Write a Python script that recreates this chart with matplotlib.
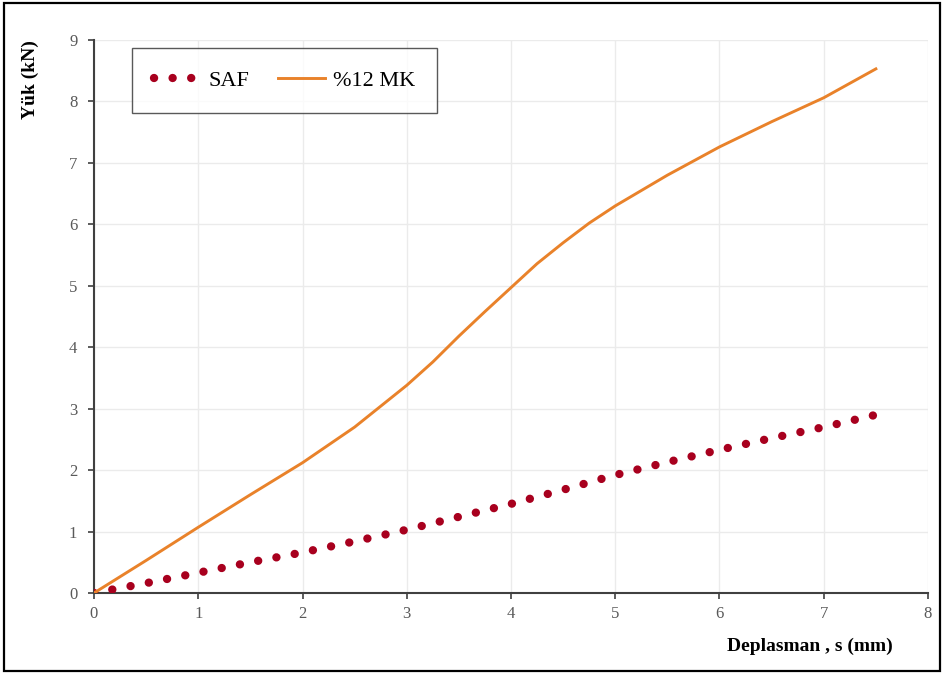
import matplotlib
matplotlib.use("Agg")
import matplotlib.pyplot as plt
from matplotlib.patches import Rectangle

# values
saf_x = [0, 0.5, 1, 1.5, 2, 2.5, 3, 3.5, 4, 4.5, 5, 5.5, 6, 6.5, 7, 7.5]
saf_y = [0, 0.16, 0.33, 0.5, 0.66, 0.84, 1.03, 1.24, 1.45, 1.68, 1.92, 2.13, 2.33, 2.52, 2.7, 2.9]

mk_x = [0, 0.5, 1, 1.5, 2, 2.5, 3, 3.25, 3.5, 3.75, 4, 4.25, 4.5, 4.75, 5, 5.5, 6, 6.5, 7, 7.5]
mk_y = [0, 0.53, 1.07, 1.6, 2.12, 2.7, 3.38, 3.76, 4.18, 4.58, 4.97, 5.36, 5.7, 6.02, 6.3, 6.8, 7.26, 7.67, 8.06, 8.53]

x_ticks = list(range(0, 9))
y_ticks = list(range(0, 10))

plt.rcParams['font.family'] = ['Liberation Serif', 'DejaVu Serif']

fig = plt.figure(figsize=(9.44, 6.76), dpi=100)
ax = fig.add_axes([94/944, 1 - 593/676, (928-94)/944, (593-40)/676])

# round dots: near-zero dash with round caps
saf_line, = ax.plot(saf_x, saf_y, color='#A8001E', lw=6, linestyle=(0, (0.01, 2.22)),
                    dash_capstyle='round', label='SAF', zorder=3)
mk_line, = ax.plot(mk_x, mk_y, color='#E9822A', lw=2.1, label='%12 MK', zorder=4)

ax.set_xlim(0, 8)
ax.set_ylim(0, 9)
ax.set_xticks(x_ticks)
ax.set_yticks(y_ticks)
ax.grid(True, color='#EBEBEB', lw=1)
ax.set_axisbelow(True)

for s in ['top', 'right']:
    ax.spines[s].set_visible(False)
for s in ['left', 'bottom']:
    ax.spines[s].set_color('#404040')
    ax.spines[s].set_linewidth(1.5)

ax.tick_params(axis='both', colors='#404040', labelcolor='#595959', labelsize=12,
               length=4, width=1.2)
ax.tick_params(axis='x', pad=5)
ax.tick_params(axis='y', pad=8)

fig.text(893/944, 1 - 646/676, 'Deplasman , s (mm)', fontsize=14, fontweight='bold',
         ha='right', va='center')
fig.text(30/944, 1 - 80/676, 'Yük (kN)', fontsize=14, fontweight='bold',
         rotation=90, ha='center', va='center')

leg = ax.legend(handles=[saf_line, mk_line], loc='upper left',
                bbox_to_anchor=(132/944, 1 - 48/676), bbox_transform=fig.transFigure,
                ncol=2, fontsize=16, frameon=True, fancybox=False, borderaxespad=0,
                borderpad=1.0, handlelength=2.1, handletextpad=0.35, columnspacing=1.3)
leg.get_frame().set_edgecolor('#303030')
leg.get_frame().set_linewidth(1.0)

# outer border of the picture
fig.patches.append(Rectangle((4/944, 5/676), 936/944, 668/676, transform=fig.transFigure,
                             fill=False, edgecolor='black', lw=1.6))

fig.savefig('out.png', dpi=100)
